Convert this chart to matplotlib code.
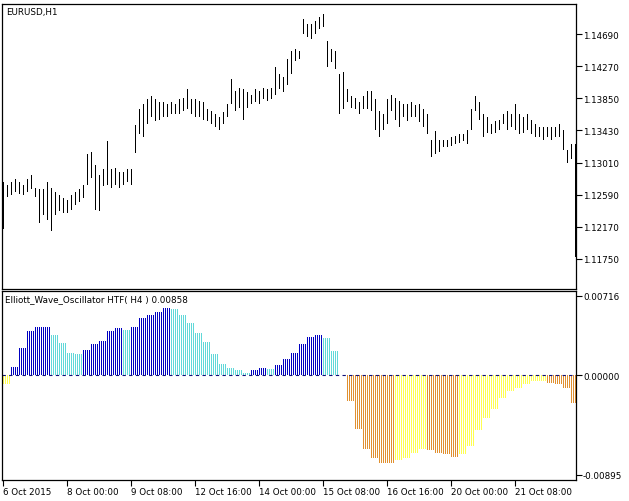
import matplotlib.pyplot as plt
import numpy as np

# H1 price bars, one drawn every 2 hours (price in 1e-4 units)
highs = [11275, 11271, 11275, 11279, 11275, 11272, 11279, 11285, 11268, 11266,
         11266, 11275, 11268, 11263, 11259, 11255, 11252, 11259, 11262, 11266,
         11272, 11312, 11315, 11298, 11285, 11292, 11329, 11292, 11294, 11289,
         11289, 11292, 11292, 11350, 11371, 11377, 11384, 11388, 11384, 11380,
         11380, 11377, 11380, 11377, 11384, 11386, 11397, 11384, 11384, 11381,
         11380, 11371, 11368, 11364, 11360, 11367, 11377, 11410, 11394, 11399,
         11397, 11393, 11390, 11397, 11394, 11399, 11397, 11399, 11426, 11417,
         11413, 11436, 11447, 11449, 11447, 11489, 11482, 11482, 11486, 11491,
         11495, 11460, 11449, 11447, 11417, 11420, 11397, 11388, 11386, 11380,
         11388, 11394, 11394, 11384, 11368, 11364, 11384, 11390, 11386, 11381,
         11377, 11377, 11380, 11376, 11377, 11371, 11364, 11331, 11342, 11331,
         11331, 11331, 11334, 11336, 11339, 11338, 11344, 11371, 11388, 11380,
         11364, 11360, 11351, 11355, 11357, 11364, 11368, 11364, 11377, 11364,
         11360, 11364, 11357, 11351, 11347, 11348, 11348, 11347, 11348, 11351,
         11344, 11318, 11325, 11325]
lows = [11214, 11256, 11259, 11263, 11260, 11259, 11263, 11266, 11256, 11222,
        11233, 11226, 11212, 11233, 11237, 11235, 11235, 11239, 11246, 11249,
        11255, 11272, 11281, 11239, 11237, 11270, 11272, 11268, 11272, 11268,
        11272, 11275, 11272, 11314, 11338, 11334, 11351, 11360, 11355, 11357,
        11360, 11360, 11364, 11364, 11364, 11368, 11371, 11364, 11360, 11360,
        11357, 11355, 11351, 11347, 11344, 11351, 11360, 11377, 11368, 11373,
        11357, 11373, 11377, 11380, 11377, 11384, 11381, 11384, 11390, 11397,
        11393, 11403, 11417, 11434, 11436, 11469, 11465, 11462, 11469, 11476,
        11478, 11426, 11432, 11423, 11364, 11371, 11380, 11373, 11371, 11364,
        11371, 11371, 11368, 11344, 11334, 11344, 11351, 11368, 11357, 11347,
        11360, 11355, 11360, 11360, 11354, 11347, 11338, 11308, 11312, 11315,
        11321, 11321, 11323, 11325, 11326, 11329, 11325, 11344, 11368, 11357,
        11334, 11340, 11338, 11340, 11344, 11351, 11344, 11347, 11344, 11338,
        11340, 11344, 11338, 11335, 11334, 11331, 11335, 11331, 11334, 11335,
        11318, 11301, 11305, 11178]

# Elliott Wave Oscillator, H4 values (each covers 4 H1 bars)
ewo = [-0.0008, 0.0008, 0.0025, 0.0040, 0.0044, 0.0044, 0.0036, 0.0029, 0.0020, 0.0019,
       0.0023, 0.0028, 0.0031, 0.0040, 0.0043, 0.0041, 0.0044, 0.0052, 0.0054, 0.0057,
       0.0061, 0.0060, 0.0054, 0.0047, 0.0038, 0.0030, 0.0019, 0.0010, 0.0007, 0.0005,
       0.0002, 0.0005, 0.0007, 0.0006, 0.0009, 0.0015, 0.0020, 0.0028, 0.0035, 0.0036,
       0.0034, 0.0022, 0.0, -0.0023, -0.0048, -0.0066, -0.0074, -0.0079, -0.0079, -0.0076,
       -0.0074, -0.0070, -0.0066, -0.0067, -0.0070, -0.0071, -0.0073, -0.0071, -0.0063, -0.0049,
       -0.0038, -0.0030, -0.0020, -0.0014, -0.0011, -0.0008, -0.0005, -0.0005, -0.0007, -0.0008,
       -0.0011, -0.0025]
ewo_kind = list('y' + 'b' * 5 + 'c' * 4 + 'b' * 5 + 'c' + 'b' * 5 + 'c' * 10 + 'bb' + 'c'
                + 'b' * 6 + 'ccc' + 'o' * 6 + 'y' * 4 + 'o' * 4 + 'y' * 11 + 'o' * 4)
kind_color = {'b': '#0000c0', 'c': '#60d8d8', 'o': '#e09030', 'y': '#ffff50'}

price_ticks = [1.14690, 1.14270, 1.13850, 1.13430, 1.13010, 1.12590, 1.12170, 1.11750]
time_ticks = [0, 32, 64, 96, 128, 160, 192, 224, 256]
time_labels = ['6 Oct 2015', '8 Oct 00:00', '9 Oct 08:00', '12 Oct 16:00', '14 Oct 00:00',
               '15 Oct 08:00', '16 Oct 16:00', '20 Oct 00:00', '21 Oct 08:00']

W, H = 629, 502
fig = plt.figure(figsize=(W / 100, H / 100), dpi=100)
ax1 = fig.add_axes([2 / W, (H - 290) / H, 574 / W, 285 / H])
ax2 = fig.add_axes([2 / W, (H - 481) / H, 574 / W, 189 / H])

# price panel (one pixel wide bars: half a bar unit, edge aligned on pixel grid)
hi = np.array(highs) / 10000
lo = np.array(lows) / 10000
bx = np.arange(len(hi)) * 2
ax1.bar(bx, hi - lo, bottom=lo, width=0.5, align='edge', color='black', linewidth=0)
ax1.set_ylim(1.11356, 1.15084)
ax1.set_yticks(price_ticks)
ax1.set_yticklabels([f'{t:.5f}' for t in price_ticks])
ax1.text(0.008, 0.99, 'EURUSD,H1', transform=ax1.transAxes, fontsize=6.3, va='top')

# oscillator panel
nbar = 287
vals = np.array([ewo[i // 4] for i in range(nbar)])
cols = [kind_color[ewo_kind[i // 4]] for i in range(nbar)]
ax2.bar(np.arange(nbar), vals, width=0.5, align='edge', color=cols, linewidth=0)
ax2.axhline(0, color='#10107a', linestyle=(0, (3, 3)), linewidth=0.8)
ax2.set_ylim(-0.0094, 0.0076)
ax2.set_yticks([0.00716, 0.0, -0.00895])
ax2.set_yticklabels(['0.00716', '0.00000', '-0.00895'])
ax2.text(0.005, 0.985, 'Elliott_Wave_Oscillator HTF( H4 ) 0.00858', transform=ax2.transAxes,
         fontsize=6.3, va='top')
ax2.set_xticks(time_ticks)
ax2.set_xticklabels(time_labels, ha='left')

for ax in (ax1, ax2):
    ax.set_xlim(-0.5, 286.5)
    ax.yaxis.tick_right()
    ax.tick_params(axis='y', direction='out', length=4, width=0.8, labelsize=6.3, pad=1)
    for s in ax.spines.values():
        s.set_color('black')
        s.set_linewidth(0.9)
ax1.set_xticks([])
ax2.tick_params(axis='x', direction='out', length=4, width=0.8, labelsize=6.3, pad=1)

fig.savefig('out.png', dpi=100)
